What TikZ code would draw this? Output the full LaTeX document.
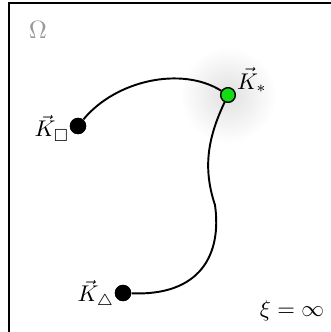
\documentclass[tikz,border=0pt]{standalone}
\usepackage{amssymb}
\begin{document}
\begin{tikzpicture}[x=0.44pt,y=-0.44pt,
  curve/.style={line width=0.85pt},
  blackdot/.style={circle,fill=black,inner sep=0pt,minimum size=7.2pt},
  greendot/.style={circle,fill=kgreen,draw=black,line width=0.55pt,inner sep=0pt,minimum size=6.4pt},
  lbl/.style={inner sep=0pt}]
\definecolor{kgreen}{RGB}{20,220,20}
\useasboundingbox (0,0) rectangle (331,332);
\begin{scope}
  \clip (0,0) rectangle (331,332);
  \draw[line width=0.7pt] (9,3) rectangle (345,345);
\end{scope}
\shade[inner color=black!12, outer color=white] (228,95) circle (48);
\node[lbl, text=black!40, scale=1.1] (omega) at (38,30) {$\Omega$};
\node[blackdot] (kb) at (78,126) {};
\node[blackdot] (kt) at (123,293) {};
\node[greendot] (ks) at (228,95) {};
\coordinate (kink) at (215,205);
\draw[curve] (kb) .. controls (116,80) and (182,66) .. (ks);
\draw[curve] (ks) .. controls (208,137.5) and (202.5,167.5) .. (kink)
  .. controls (222,255) and (200,296) .. (kt);
\node[blackdot] at (kb) {};
\node[blackdot] at (kt) {};
\node[greendot] at (ks) {};
\node[lbl] (lkb) at (52,128) {$\vec{K}_\Box$};
\node[lbl] (lks) at (252,80) {$\vec{K}_*$};
\node[lbl] (lkt) at (96,294) {$\vec{K}_\triangle$};
\node[lbl] (xi) at (292,311) {$\xi=\infty$};
\end{tikzpicture}
\end{document}
